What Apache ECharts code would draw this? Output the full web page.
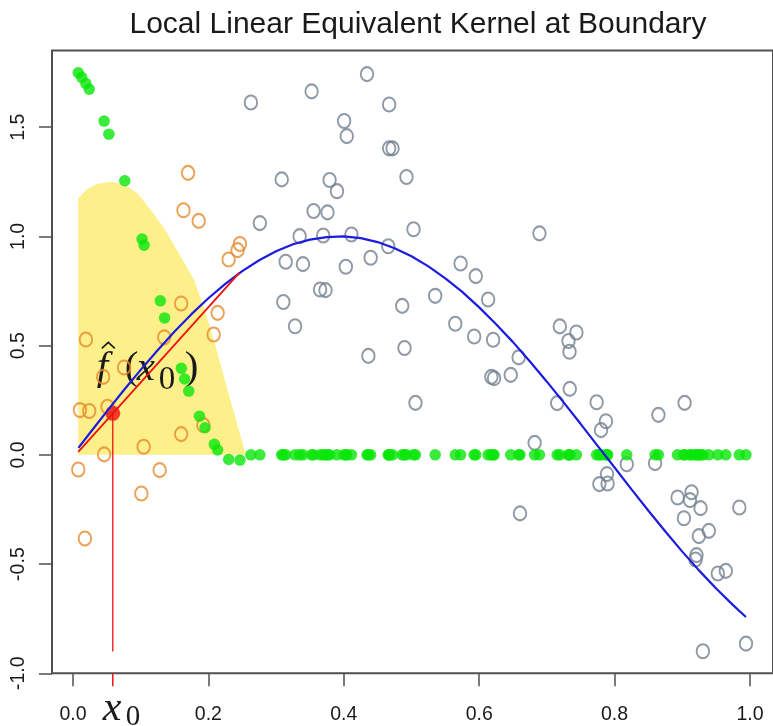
<!DOCTYPE html>
<html>
<head>
<meta charset="utf-8">
<script src="https://cdn.jsdelivr.net/npm/echarts@6/dist/echarts.min.js"></script>
<style>
  html, body { margin: 0; padding: 0; background: #ffffff; }
  #chart { width: 773px; height: 726px; }
</style>
</head>
<body>
<div id="chart"></div>
<script>
// ---- text and axes ----
const titleText = 'Local Linear Equivalent Kernel at Boundary';
const xTicks = [0, 0.2, 0.4, 0.6, 0.8, 1.0];
const yTicks = [-1.0, -0.5, 0, 0.5, 1.0, 1.5];
const xRange = [-0.031, 1.034];
const yRange = [-1.0, 1.851];

// ---- observations inside the kernel window (orange) ----
const insideX = [0.0078, 0.0103, 0.0176, 0.0191, 0.024, 0.0446, 0.046, 0.051, 0.0755, 0.101,
  0.1044, 0.128, 0.1348, 0.1598, 0.1598, 0.1632, 0.170, 0.1857, 0.1926, 0.2078,
  0.2137, 0.2299, 0.2431, 0.2466];
const insideY = [-0.067, 0.205, -0.383, 0.528, 0.201, 0.357, 0.002, 0.220, 0.400, -0.177,
  0.037, -0.070, 0.538, 0.693, 0.095, 1.120, 1.291, 1.071, 0.136, 0.551,
  0.650, 0.894, 0.937, 0.965];

// ---- observations outside the window (grey) ----
const outsideX = [0.2628, 0.3525, 0.4343, 0.467, 0.4005, 0.4044, 0.467, 0.472, 0.3083, 0.379,
  0.390, 0.4926, 0.3554, 0.376, 0.276, 0.503, 0.3348, 0.3696, 0.4113, 0.4657,
  0.3142, 0.3397, 0.403, 0.4397, 0.5725, 0.595, 0.365, 0.373, 0.3107, 0.328,
  0.4863, 0.535, 0.6132, 0.5647, 0.5926, 0.6206, 0.4897, 0.4363, 0.618, 0.622,
  0.6466, 0.5059, 0.6583, 0.7191, 0.7436, 0.7319, 0.7334, 0.7338, 0.7152, 0.7735,
  0.7872, 0.780, 0.6819, 0.9034, 0.8647, 0.818, 0.8598, 0.7887, 0.7775, 0.7897,
  0.6603, 0.8931, 0.9137, 0.9113, 0.927, 0.9843, 0.9024, 0.9392, 0.9245, 0.921,
  0.9196, 0.9525, 0.9643, 0.9304, 0.9941, 0.689];
const outsideY = [1.613, 1.664, 1.743, 1.604, 1.528, 1.459, 1.403, 1.403, 1.261, 1.258,
  1.207, 1.272, 1.116, 1.110, 1.061, 1.033, 1.001, 1.004, 1.009, 0.955,
  0.884, 0.873, 0.861, 0.902, 0.876, 0.818, 0.757, 0.754, 0.700, 0.589,
  0.682, 0.728, 0.711, 0.600, 0.542, 0.527, 0.489, 0.453, 0.357, 0.351,
  0.366, 0.238, 0.446, 0.588, 0.560, 0.521, 0.472, 0.302, 0.237, 0.241,
  0.154, 0.113, 0.055, 0.238, 0.183, -0.043, -0.038, -0.088, -0.134, -0.131,
  -0.268, -0.195, -0.171, -0.207, -0.244, -0.241, -0.290, -0.348, -0.372, -0.459,
  -0.479, -0.543, -0.531, -0.899, -0.864, 1.014];

// ---- equivalent kernel weights (green) ----
const weightX = [0.0078, 0.0128, 0.0191, 0.024, 0.046, 0.053, 0.0765, 0.102, 0.105, 0.129,
  0.1353, 0.16, 0.165, 0.171, 0.1868, 0.195, 0.2088, 0.2137, 0.23, 0.2466];
const weightY = [1.749, 1.728, 1.700, 1.674, 1.528, 1.468, 1.255, 0.988, 0.960, 0.705,
  0.627, 0.396, 0.347, 0.292, 0.177, 0.124, 0.048, 0.022, -0.021, -0.024];
const outsideWeight = 0; // points beyond the window get no weight

// ---- kernel shape (yellow) ----
const kernelX = [0.0078, 0.0078, 0.02, 0.035, 0.055, 0.075, 0.096, 0.12, 0.138, 0.152,
  0.166, 0.179, 0.197, 0.2137, 0.231, 0.2554];
const kernelY = [0, 1.175, 1.215, 1.24, 1.25, 1.24, 1.195, 1.10, 1.02, 0.945,
  0.87, 0.80, 0.64, 0.464, 0.266, 0];

// ---- true regression curve (blue) ----
const trueX = [0.008, 0.025, 0.05, 0.075, 0.10, 0.125, 0.15, 0.175, 0.20, 0.225,
  0.25, 0.275, 0.30, 0.325, 0.35, 0.375, 0.40, 0.425, 0.45, 0.475,
  0.50, 0.525, 0.55, 0.575, 0.60, 0.625, 0.65, 0.675, 0.70, 0.725,
  0.75, 0.775, 0.80, 0.825, 0.85, 0.875, 0.90, 0.925, 0.95, 0.975, 0.994];
const trueY = [0.032, 0.100, 0.199, 0.296, 0.389, 0.479, 0.565, 0.644, 0.717, 0.783,
  0.841, 0.891, 0.932, 0.964, 0.985, 0.997, 1.000, 0.992, 0.974, 0.946,
  0.909, 0.863, 0.808, 0.746, 0.675, 0.598, 0.516, 0.427, 0.335, 0.239,
  0.141, 0.041, -0.058, -0.158, -0.256, -0.351, -0.443, -0.530, -0.612, -0.688, -0.742];

// ---- local linear fit at the target point (red) ----
const x0 = 0.0588;
const fHat = 0.19;
const fitX = [0.0078, 0.2456];
const fitY = [0.014, 0.833];
const dropY = -0.9;

// ---- colours ----
const C = {
  grey: '#738190', orange: '#e68a2e', green: '#0ae60a', blue: '#1c1ce0',
  red: '#ee1111', yellow: '#fdf08a', frame: '#505050', text: '#1a1a1a'
};

const ring = 'path://M50,0A50,50,0,1,1,50,100A50,50,0,1,1,50,0Z';
const pairs = (xs, ys) => xs.map((x, i) => [x, ys[i]]);

const chart = echarts.init(document.getElementById('chart'), null, { renderer: 'canvas' });

const serif = 'Liberation Serif';

const option = {
  animation: false,
  backgroundColor: '#ffffff',
  title: {
    text: titleText,
    left: 413, top: 5, textAlign: 'center',
    textStyle: { fontFamily: 'Liberation Sans', fontSize: 30, fontWeight: 'normal', color: C.text }
  },
  grid: {
    left: 52, right: -3, top: 50.5, bottom: 52.7,
    show: true, borderColor: C.frame, borderWidth: 2, backgroundColor: 'transparent'
  },
  xAxis: {
    type: 'value', min: xRange[0], max: xRange[1],
    axisLine: { show: false, onZero: false },
    splitLine: { show: false },
    axisTick: { show: true, length: 13, customValues: xTicks, lineStyle: { color: C.frame, width: 1.5 } },
    axisLabel: {
      customValues: xTicks, formatter: v => v.toFixed(1), margin: 31,
      fontFamily: 'Liberation Sans', fontSize: 19.5, color: C.text
    }
  },
  yAxis: {
    type: 'value', min: yRange[0], max: yRange[1],
    axisLine: { show: false, onZero: false },
    splitLine: { show: false },
    axisTick: { show: true, length: 13, customValues: yTicks, lineStyle: { color: C.frame, width: 1.5 } },
    axisLabel: {
      customValues: yTicks, formatter: v => v.toFixed(1), margin: 23, rotate: 90,
      fontFamily: 'Liberation Sans', fontSize: 19.5, color: C.text
    }
  },
  series: [
    {
      name: 'kernel', type: 'custom', data: [[kernelX[0], kernelY[0]]], silent: true,
      renderItem: (params, api) => ({
        type: 'polygon',
        shape: { points: kernelX.map((x, i) => api.coord([x, kernelY[i]])) },
        style: { fill: C.yellow }
      })
    },
    {
      name: 'outside', type: 'scatter', data: pairs(outsideX, outsideY),
      symbol: ring, symbolSize: [12.5, 14],
      itemStyle: { color: 'rgba(0,0,0,0)', borderColor: C.grey, borderWidth: 2 }
    },
    {
      name: 'inside', type: 'scatter', data: pairs(insideX, insideY),
      symbol: ring, symbolSize: [12.5, 14],
      itemStyle: { color: 'rgba(0,0,0,0)', borderColor: C.orange, borderWidth: 2 }
    },
    {
      name: 'weights', type: 'scatter',
      data: pairs(weightX, weightY).concat(outsideX.map(x => [x, outsideWeight])),
      symbol: 'circle', symbolSize: 11.5,
      itemStyle: { color: C.green }
    },
    {
      name: 'truth', type: 'line', data: pairs(trueX, trueY), showSymbol: false,
      lineStyle: { color: C.blue, width: 2.2 }
    },
    {
      name: 'fit', type: 'line', data: pairs(fitX, fitY), showSymbol: false,
      lineStyle: { color: C.red, width: 1.8 }
    },
    {
      name: 'drop', type: 'line', data: [[x0, dropY], [x0, fHat]], showSymbol: false,
      lineStyle: { color: C.red, width: 1.3 }
    },
    {
      name: 'estimate', type: 'scatter', data: [[x0, fHat]],
      symbol: 'circle', symbolSize: 15, itemStyle: { color: C.red }
    },
    {
      // f-hat(x0) annotation near the estimate
      name: 'fhatLabel', type: 'custom', data: [[x0, fHat]], silent: true, clip: false,
      renderItem: (params, api) => {
        const p = api.coord([x0, fHat]);
        const t = (text, dx, dy, size, italic) => ({
          type: 'text', x: p[0] + dx, y: p[1] + dy,
          style: { text, fontFamily: serif, fontSize: size, fontStyle: italic ? 'italic' : 'normal',
                   fill: C.text, align: 'left', verticalAlign: 'middle' }
        });
        return {
          type: 'group',
          children: [
            t('f', -16, -45, 41, true),
            { type: 'polyline', shape: { points: [[p[0] - 11, p[1] - 65], [p[0] - 4.5, p[1] - 71], [p[0] + 2, p[1] - 65]] },
              style: { stroke: C.text, lineWidth: 1.6, fill: null } },
            t('(', 12, -45, 41, false),
            t('x', 24, -44, 41, true),
            t('0', 46, -33, 33, false),
            t(')', 72, -45, 41, false)
          ]
        };
      }
    },
    {
      // x0 marker on the horizontal axis
      name: 'x0Label', type: 'custom', data: [[x0, yRange[0]]], silent: true, clip: false,
      renderItem: (params, api) => {
        const p = api.coord([x0, yRange[0]]);
        return {
          type: 'group',
          children: [
            { type: 'line', shape: { x1: p[0], y1: p[1], x2: p[0], y2: p[1] + 13 },
              style: { stroke: C.red, lineWidth: 1.5 } },
            { type: 'text', x: p[0] - 10, y: p[1] + 36,
              style: { text: 'x', fontFamily: serif, fontSize: 42, fontStyle: 'italic', fill: C.text,
                       align: 'left', verticalAlign: 'middle' } },
            { type: 'text', x: p[0] + 13, y: p[1] + 44,
              style: { text: '0', fontFamily: serif, fontSize: 29, fill: C.text,
                       align: 'left', verticalAlign: 'middle' } }
          ]
        };
      }
    }
  ]
};

chart.setOption(option);
</script>
</body>
</html>
